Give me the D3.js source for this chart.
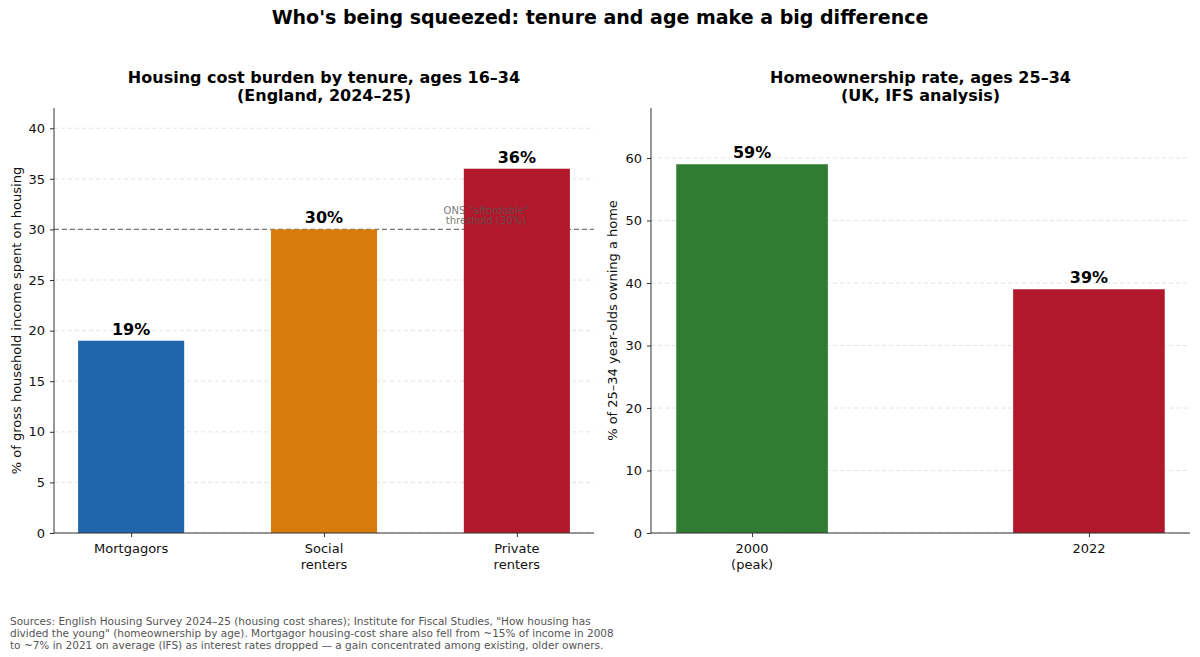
<!DOCTYPE html>
<html>
<head>
<meta charset="utf-8">
<script src="https://cdn.jsdelivr.net/npm/d3@7"></script>
<style>
  body { margin: 0; background: #fff; }
  svg { font-family: "DejaVu Sans", sans-serif; }
</style>
</head>
<body>
<div id="container"></div>
<script>
// data
const tenureLabels = [["Mortgagors"], ["Social", "renters"], ["Private", "renters"]]
const tenureValues = [19, 30, 36]
const tenureColors = ["#2166ac", "#d97b0b", "#b2182b"]
const threshold = 30
const leftTicks = [0, 5, 10, 15, 20, 25, 30, 35, 40]

const yearLabels = [["2000", "(peak)"], ["2022"]]
const ownValues = [59, 39]
const ownColors = ["#2e7d32", "#b2182b"]
const rightTicks = [0, 10, 20, 30, 40, 50, 60]

const footLines = [
  'Sources: English Housing Survey 2024\u201325 (housing cost shares); Institute for Fiscal Studies, "How housing has',
  'divided the young" (homeownership by age). Mortgagor housing-cost share also fell from ~15% of income in 2008',
  'to ~7% in 2021 on average (IFS) as interest rates dropped \u2014 a gain concentrated among existing, older owners.'
]

const width = 1200, height = 657
const svg = d3.select('#container').append('svg')
  .attr('width', width).attr('height', height)

svg.append('text')
  .attr('x', 600).attr('y', 24)
  .attr('text-anchor', 'middle')
  .attr('font-size', 19).attr('font-weight', 'bold')
  .text("Who's being squeezed: tenure and age make a big difference")

function panel(opts) {
  const { x0, x1, y0, y1, labels, values, colors, ymax, ticks, pad, barW, title, ylabel, ylabelX } = opts
  const g = svg.append('g')
  const n = values.length
  const x = d3.scaleLinear().domain([-pad, n - 1 + pad]).range([x0, x1])
  const step = x(1) - x(0)
  const y = d3.scaleLinear().domain([0, ymax]).range([y1, y0])

  // grid
  g.selectAll('.grid').data(ticks).join('line')
    .attr('x1', x0).attr('x2', x1)
    .attr('y1', d => y(d)).attr('y2', d => y(d))
    .attr('stroke', '#dddddd').attr('stroke-width', 0.8)
    .attr('stroke-dasharray', '4,3')

  if (opts.under) opts.under(g, x, y)

  g.selectAll('.bar').data(values).join('rect')
    .attr('x', (d, i) => x(i) - barW * step / 2)
    .attr('width', barW * step)
    .attr('y', d => y(d))
    .attr('height', d => y(0) - y(d))
    .attr('fill', (d, i) => colors[i])

  if (opts.over) opts.over(g, x, y)

  g.selectAll('.val').data(values).join('text')
    .attr('x', (d, i) => x(i))
    .attr('y', d => y(d) - 6)
    .attr('text-anchor', 'middle')
    .attr('font-size', 16).attr('font-weight', 'bold')
    .text(d => d + '%')

  // y axis
  const ya = g.append('g').attr('transform', `translate(${x0},0)`)
    .call(d3.axisLeft(y).tickValues(ticks).tickSize(4).tickPadding(5))
  ya.select('.domain').attr('d', `M0,${y0}V${y1}`).attr('stroke', '#333')
  ya.selectAll('text').attr('font-size', 13).attr('fill', '#111').style('font-family', 'DejaVu Sans')
  ya.selectAll('.tick line').attr('stroke', '#333')

  // x axis
  const xa = g.append('g').attr('transform', `translate(0,${y1})`)
    .call(d3.axisBottom(x).tickValues(d3.range(n)).tickSize(4).tickFormat(''))
  xa.select('.domain').attr('d', `M${x0},0H${x1}`).attr('stroke', '#333')
  xa.selectAll('.tick line').attr('stroke', '#333')
  g.selectAll('.xl').data(labels).join('text')
    .attr('x', (d, i) => x(i)).attr('y', y1 + 20)
    .attr('text-anchor', 'middle').attr('font-size', 13).attr('fill', '#111')
    .selectAll('tspan').data(d => d).join('tspan')
    .attr('x', function () { return d3.select(this.parentNode).attr('x') })
    .attr('dy', (d, i) => i === 0 ? 0 : 15.5)
    .text(d => d)

  // titles
  const cx = (x0 + x1) / 2
  g.append('text').attr('x', cx).attr('y', 83)
    .attr('text-anchor', 'middle').attr('font-size', 16).attr('font-weight', 'bold')
    .selectAll('tspan').data(title).join('tspan')
    .attr('x', cx).attr('dy', (d, i) => i === 0 ? 0 : 18)
    .text(d => d)

  g.append('text')
    .attr('transform', `translate(${ylabelX},${(y0 + y1) / 2}) rotate(-90)`)
    .attr('text-anchor', 'middle').attr('font-size', 13).attr('fill', '#111')
    .text(ylabel)
}

panel({
  x0: 54, x1: 594, y0: 108, y1: 533,
  labels: tenureLabels, values: tenureValues, colors: tenureColors,
  ymax: 42, ticks: leftTicks, pad: 0.4, barW: 0.55,
  title: ['Housing cost burden by tenure, ages 16\u201334', '(England, 2024\u201325)'],
  ylabel: '% of gross household income spent on housing', ylabelX: 21,
  under: (g, x, y) => {
    g.append('line')
      .attr('x1', x(-0.4)).attr('x2', x(2.4))
      .attr('y1', y(threshold)).attr('y2', y(threshold))
      .attr('stroke', '#777').attr('stroke-width', 1.2)
      .attr('stroke-dasharray', '5,3')
  },
  over: (g, x, y) => {
    const tx = x(1.84)
    g.append('text')
      .attr('x', tx).attr('y', y(threshold) - 15)
      .attr('text-anchor', 'middle').attr('font-size', 10).attr('fill', '#555')
      .attr('fill-opacity', 0.8)
      .selectAll('tspan').data(['ONS "affordable"', 'threshold (30%)']).join('tspan')
      .attr('x', tx).attr('dy', (d, i) => i === 0 ? 0 : 10)
      .text(d => d)
  }
})

panel({
  x0: 651, x1: 1190, y0: 108, y1: 533,
  labels: yearLabels, values: ownValues, colors: ownColors,
  ymax: 68, ticks: rightTicks, pad: 0.3, barW: 0.45,
  title: ['Homeownership rate, ages 25\u201334', '(UK, IFS analysis)'],
  ylabel: '% of 25\u201334 year-olds owning a home', ylabelX: 617
})

svg.append('text')
  .attr('x', 10).attr('y', 625)
  .attr('font-size', 10.5).attr('fill', '#555')
  .selectAll('tspan').data(footLines).join('tspan')
  .attr('x', 10).attr('dy', (d, i) => i === 0 ? 0 : 12)
  .text(d => d)
</script>
</body>
</html>
